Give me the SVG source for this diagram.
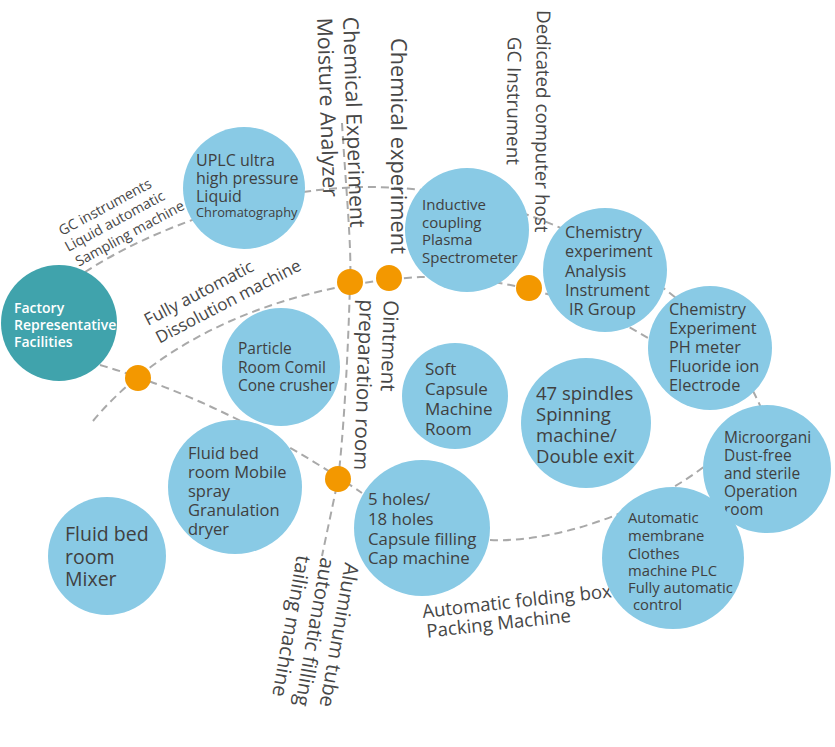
<svg xmlns="http://www.w3.org/2000/svg" width="835" height="747" viewBox="0 0 835 747">
<style>
.bg{fill:#ffffff}
.conn{fill:none;stroke:#a9a9a9;stroke-width:2;stroke-dasharray:8 5}
.node{fill:#89cae5}
.main{fill:#40a3ac}
.dot{fill:#f39800}
.t{font-family:"Open Sans","Noto Sans","Liberation Sans",sans-serif;fill:#404040}
.w{font-family:"Open Sans","Noto Sans","Liberation Sans",sans-serif;fill:#ffffff;font-weight:600}
.lbl{font-family:"Open Sans","Noto Sans","Liberation Sans",sans-serif;fill:#474747}
</style>
<rect class="bg" x="0" y="0" width="835" height="747"/>
<g id="connectors">
<path class="conn" d="M85,272 C150,230 260,187 370,187 C480,187 600,230 690,310 C720,340 745,370 762,410"/>
<path class="conn" d="M93,421 C160,340 280,285 420,277 C480,275 570,290 648,338 C680,357 700,375 710,390"/>
<path class="conn" d="M100,365 Q230,403 362,493"/>
<path class="conn" d="M342,123 C346,190 352,250 350,283 C348,360 343,440 338,480 L322,556"/>
<path class="conn" d="M490,540 C560,543 650,508 705,466"/>
</g>
<g id="junctions">
<circle class="dot" cx="138" cy="378" r="13"/>
<circle class="dot" cx="350" cy="282" r="13"/>
<circle class="dot" cx="389" cy="278" r="13"/>
<circle class="dot" cx="529" cy="288" r="13"/>
<circle class="dot" cx="338" cy="479" r="13"/>
</g>
<g id="labels">
<text class="lbl" font-size="14.2" transform="translate(62,236) rotate(-28.5)"><tspan x="0" y="0">GC instruments</tspan><tspan x="-2" y="17">Liquid automatic</tspan><tspan x="0" y="35">Sampling machine</tspan></text>
<text class="lbl" font-size="17" transform="translate(148,326) rotate(-27.5)"><tspan x="0" y="0">Fully automatic</tspan><tspan x="2" y="21">Dissolution machine</tspan></text>
<text class="lbl" font-size="21.3" transform="translate(343,17) rotate(88)"><tspan x="0" y="0">Chemical Experiment</tspan><tspan x="0" y="26">Moisture Analyzer</tspan></text>
<text class="lbl" font-size="21.8" transform="translate(391,38) rotate(90)">Chemical experiment</text>
<text class="lbl" font-size="18.8" transform="translate(537,10) rotate(90.5)"><tspan x="0" y="0">Dedicated computer host</tspan><tspan x="27" y="29">GC Instrument</tspan></text>
<text class="lbl" font-size="20.5" transform="translate(384,300) rotate(92)"><tspan x="0" y="0">Ointment</tspan><tspan x="0" y="24">preparation room</tspan></text>
<text class="lbl" font-size="20.2" transform="translate(345,562) rotate(100)"><tspan x="0" y="0">Aluminum tube</tspan><tspan x="-1" y="24.5">automatic filling</tspan><tspan x="1" y="48.5">tailing machine</tspan></text>
<text class="lbl" font-size="18.6" transform="translate(423,618) rotate(-6.3)"><tspan x="0" y="0">Automatic folding box</tspan><tspan x="2" y="20">Packing Machine</tspan></text>
</g>
<g id="factory">
<circle class="main" cx="59" cy="323" r="58"/>
<text class="w" font-size="14"><tspan x="14" y="313">Factory</tspan><tspan x="14" y="330">Representative</tspan><tspan x="14" y="347">Facilities</tspan></text>
</g>
<g id="uplc">
<circle class="node" cx="244" cy="188" r="61"/>
<text class="t" font-size="16"><tspan x="196" y="166">UPLC ultra</tspan><tspan x="196" y="184">high pressure</tspan><tspan x="196" y="202">Liquid</tspan><tspan x="196" y="217" font-size="12.8">Chromatography</tspan></text>
</g>
<g id="icp">
<circle class="node" cx="467" cy="230" r="62"/>
<text class="t" font-size="15"><tspan x="422" y="210">Inductive</tspan><tspan x="422" y="227.5">coupling</tspan><tspan x="422" y="245">Plasma</tspan><tspan x="422" y="262.5">Spectrometer</tspan></text>
</g>
<g id="ir">
<circle class="node" cx="605" cy="270" r="62"/>
<text class="t" font-size="16.3"><tspan x="565" y="238">Chemistry</tspan><tspan x="565" y="257">experiment</tspan><tspan x="565" y="277">Analysis</tspan><tspan x="565" y="296">Instrument</tspan><tspan x="569" y="315">IR Group</tspan></text>
</g>
<g id="ph">
<circle class="node" cx="710" cy="348" r="62"/>
<text class="t" font-size="16.3"><tspan x="669" y="315">Chemistry</tspan><tspan x="669" y="334">Experiment</tspan><tspan x="669" y="353">PH meter</tspan><tspan x="669" y="372">Fluoride ion</tspan><tspan x="669" y="391">Electrode</tspan></text>
</g>
<g id="micro">
<circle class="node" cx="767" cy="469" r="64"/>
<text class="t" font-size="15.5"><tspan x="724" y="443">Microorgani</tspan><tspan x="724" y="461">Dust-free</tspan><tspan x="724" y="479">and sterile</tspan><tspan x="724" y="497">Operation</tspan><tspan x="724" y="515">room</tspan></text>
</g>
<g id="membrane">
<circle class="node" cx="673" cy="558" r="71"/>
<text class="t" font-size="14.8"><tspan x="628" y="523">Automatic</tspan><tspan x="628" y="541">membrane</tspan><tspan x="628" y="559">Clothes</tspan><tspan x="628" y="576">machine PLC</tspan><tspan x="628" y="593">Fully automatic</tspan><tspan x="633" y="610">control</tspan></text>
</g>
<g id="spindles">
<circle class="node" cx="586" cy="423" r="65"/>
<text class="t" font-size="18.5"><tspan x="536" y="400">47 spindles</tspan><tspan x="536" y="421">Spinning</tspan><tspan x="536" y="442">machine/</tspan><tspan x="536" y="463">Double exit</tspan></text>
</g>
<g id="particle">
<circle class="node" cx="281" cy="367" r="59"/>
<text class="t" font-size="15.5"><tspan x="238" y="354">Particle</tspan><tspan x="238" y="373">Room Comil</tspan><tspan x="238" y="391">Cone crusher</tspan></text>
</g>
<g id="softcapsule">
<circle class="node" cx="455" cy="396" r="53"/>
<text class="t" font-size="17"><tspan x="425" y="375">Soft</tspan><tspan x="425" y="395">Capsule</tspan><tspan x="425" y="415">Machine</tspan><tspan x="425" y="435">Room</tspan></text>
</g>
<g id="fluidmobile">
<circle class="node" cx="235" cy="487" r="67"/>
<text class="t" font-size="16.5"><tspan x="188" y="459">Fluid bed</tspan><tspan x="188" y="478">room Mobile</tspan><tspan x="188" y="497">spray</tspan><tspan x="188" y="516">Granulation</tspan><tspan x="188" y="535">dryer</tspan></text>
</g>
<g id="fluidmixer">
<circle class="node" cx="107" cy="556" r="59"/>
<text class="t" font-size="19.5"><tspan x="65" y="541">Fluid bed</tspan><tspan x="65" y="563.5">room</tspan><tspan x="65" y="586">Mixer</tspan></text>
</g>
<g id="capsulefilling">
<circle class="node" cx="422" cy="528" r="68"/>
<text class="t" font-size="16.8"><tspan x="368" y="505">5 holes/</tspan><tspan x="368" y="525">18 holes</tspan><tspan x="368" y="545">Capsule filling</tspan><tspan x="368" y="564">Cap machine</tspan></text>
</g>
</svg>
